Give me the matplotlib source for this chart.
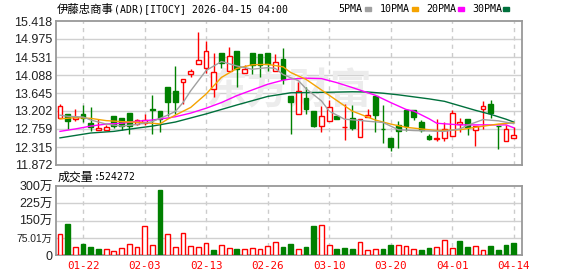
import numpy as np
import matplotlib
matplotlib.use('Agg')
import matplotlib.pyplot as plt
from matplotlib.patches import Rectangle

# OHLC, one entry per trading day (01-16 .. 04-14)
opens = [13.039, 13.120, 13.006, 13.137, 12.916, 12.729, 12.729, 13.071, 13.022, 13.153,
         12.892, 12.900, 13.251, 13.202, 13.790, 13.692, 13.928, 14.124, 14.369, 14.255,
         13.732, 14.622, 14.189, 14.687, 14.149, 14.638, 14.606, 14.638, 14.189, 14.475,
         13.561, 13.129, 13.512, 13.202, 12.827, 12.949, 13.071, 12.802, 13.022, 12.557,
         13.047, 13.569, 12.769, 12.541, 12.859, 13.235, 13.235, 12.925, 12.574, 12.508,
         12.533, 12.582, 12.884, 13.006, 12.737, 13.243, 13.365, 12.843, 12.459, 12.533]
highs = [13.373, 13.137, 13.251, 13.349, 13.308, 13.006, 12.859, 13.071, 13.022, 13.153,
         13.006, 13.129, 13.594, 13.202, 13.790, 14.312, 13.994, 14.230, 15.144, 14.916,
         14.638, 14.622, 14.785, 14.687, 14.346, 14.638, 14.606, 14.638, 14.606, 14.761,
         13.561, 13.904, 13.798, 13.202, 13.316, 13.471, 13.071, 13.382, 13.349, 12.998,
         13.251, 13.569, 13.349, 12.541, 12.965, 13.235, 13.235, 12.982, 12.639, 13.006,
         12.925, 13.235, 13.022, 13.006, 12.827, 13.455, 13.471, 12.843, 12.859, 12.818]
lows = [13.022, 12.761, 12.965, 12.925, 12.721, 12.729, 12.729, 12.778, 12.745, 12.631,
        12.859, 12.859, 12.631, 12.696, 13.088, 13.129, 13.373, 14.051, 14.369, 14.149,
        13.553, 14.271, 14.189, 13.798, 14.149, 14.108, 14.051, 14.189, 14.189, 13.871,
        12.631, 13.129, 13.129, 12.802, 12.680, 12.949, 13.006, 12.476, 12.745, 12.557,
        13.047, 12.680, 12.419, 12.215, 12.288, 12.721, 12.990, 12.696, 12.476, 12.451,
        12.451, 12.582, 12.696, 12.623, 12.329, 12.761, 13.022, 12.255, 12.459, 12.533]
closes = [13.316, 12.949, 13.063, 13.039, 12.818, 12.786, 12.810, 12.843, 12.843, 12.835,
          12.974, 12.974, 13.218, 13.006, 13.430, 13.430, 13.994, 14.181, 14.467, 14.687,
          14.173, 14.377, 14.565, 14.238, 14.247, 14.328, 14.328, 14.369, 14.418, 13.985,
          13.414, 13.683, 13.251, 12.843, 13.071, 13.292, 13.006, 12.810, 12.786, 12.998,
          13.096, 13.112, 12.753, 12.313, 12.721, 12.827, 13.055, 12.745, 12.500, 12.525,
          12.761, 13.145, 12.933, 12.802, 12.827, 13.316, 13.161, 12.827, 12.761, 12.606]

volumes = [912e3, 1368e3, 338e3, 485e3, 353e3, 265e3, 250e3, 162e3, 294e3, 471e3,
           353e3, 1265e3, 427e3, 2824e3, 912e3, 338e3, 956e3, 382e3, 353e3, 515e3,
           221e3, 427e3, 309e3, 265e3, 265e3, 294e3, 265e3, 382e3, 559e3, 353e3,
           485e3, 265e3, 353e3, 1280e3, 1309e3, 441e3, 265e3, 309e3, 265e3, 559e3,
           206e3, 265e3, 265e3, 441e3, 427e3, 397e3, 265e3, 221e3, 309e3, 353e3,
           647e3, 309e3, 618e3, 353e3, 382e3, 206e3, 397e3, 221e3, 441e3, 524272]
# r = up day, g = down day (volume bar colour)
vol_colors = 'rgrgggrrrrrrrgrrrrrrgrrgrrrrrggrggrrgggrrrggrrrggrrrggrrgggg'[:60]

# moving averages read at sample days
ma5_i = [0, 1, 3, 4, 6, 8, 10, 12, 14, 15, 16, 17, 19, 21, 23, 25, 27, 28, 29, 30,
         31, 32, 34, 35, 37, 39, 40, 42, 44, 46, 48, 50, 52, 53, 55, 57, 59]
ma5_v = [13.10, 13.07, 13.055, 12.98, 12.88, 12.83, 12.87, 12.94, 13.10, 13.19,
         13.41, 13.70, 14.20, 14.42, 14.31, 14.23, 14.27, 14.25, 14.10, 14.02,
         13.95, 13.75, 13.45, 13.20, 13.00, 12.97, 12.95, 12.92, 12.74, 12.72,
         12.71, 12.70, 12.76, 12.85, 12.99, 12.96, 12.89]
ma10_i = [0, 2, 4, 6, 8, 10, 12, 13, 14, 15, 17, 19, 21, 23, 25, 27, 29, 30, 32, 34,
          36, 38, 41, 43, 45, 47, 49, 52, 54, 57, 59]
ma10_v = [13.006, 13.04, 13.02, 12.965, 12.94, 12.925, 12.90, 12.884, 13.00, 13.10,
          13.29, 13.62, 14.03, 14.25, 14.34, 14.35, 14.29, 14.15, 13.98, 13.72,
          13.46, 13.20, 12.98, 12.88, 12.80, 12.76, 12.72, 12.74, 12.80, 12.88, 12.91]
ma20_i = [0, 2, 4, 6, 8, 10, 12, 14, 15, 17, 19, 21, 23, 25, 27, 29, 30, 32, 34, 36,
          38, 41, 43, 45, 46, 48, 49, 52, 55, 58, 59]
ma20_v = [12.70, 12.76, 12.83, 12.88, 12.90, 12.95, 12.98, 13.03, 13.06, 13.15,
          13.27, 13.41, 13.58, 13.72, 13.86, 13.96, 13.99, 14.01, 14.00, 13.90,
          13.78, 13.59, 13.41, 13.24, 13.20, 13.01, 12.90, 12.86, 12.86, 12.86, 12.79]
ma30_i = [0, 4, 7, 10, 12, 15, 19, 23, 27, 30, 34, 38, 40, 42, 44, 46, 48, 50, 52,
          54, 56, 58, 59]
ma30_v = [12.54, 12.66, 12.70, 12.78, 12.83, 12.93, 13.13, 13.35, 13.56, 13.65,
          13.66, 13.675, 13.67, 13.64, 13.60, 13.55, 13.50, 13.44, 13.33, 13.22,
          13.12, 13.00, 12.93]

date_pos = [3, 11, 19, 27, 35, 43, 51, 59]
date_labels = ['01-22', '02-03', '02-13', '02-26', '03-10', '03-20', '04-01', '04-14']
price_ticks = [11.872, 12.315, 12.759, 13.202, 13.645, 14.088, 14.531, 14.975, 15.418]
vol_ticks = [0, 750100, 1500200, 2250300, 3000400]
vol_labels = ['0', '75.01万', '150万', '225万', '300万']

RED = '#ff0000'
GREEN = '#008000'
W, H = 578, 276

fig = plt.figure(figsize=(W / 100, H / 100), dpi=100)
ax = fig.add_axes([56 / W, 1 - 165 / H, 466 / W, 144 / H])
axv = fig.add_axes([56 / W, 1 - 255 / H, 466 / W, 69 / H])

n = len(closes)
x = np.arange(n)

for a in (ax, axv):
    a.set_xlim(-0.52, 60.08)
    for s in a.spines.values():
        s.set_color('#999999')
        s.set_linewidth(1.3)
    a.tick_params(length=0)
    for p in date_pos:
        a.axvline(p, color='#cccccc', lw=1, ls=(0, (3, 3)), zorder=0)

# price panel
ax.set_ylim(price_ticks[0], price_ticks[-1])
for t in price_ticks[1:-1]:
    ax.axhline(t, color='#d0d0d0', lw=1, zorder=0)
ax.set_xticks([])
ax.set_yticks(price_ticks)
ax.set_yticklabels(['%.3f' % t for t in price_ticks], fontsize=9,
                   family='Liberation Sans', color='#222222')
ax.tick_params(axis='y', pad=2.5)

ax.text(0.5, 0.52, '东方财富', transform=ax.transAxes, ha='center', va='center',
        fontsize=30, color='#ececec', family='Noto Sans CJK SC', fontweight='bold',
        style='italic', zorder=0)

bw = 0.62
for i in range(n):
    o, h, l, c = opens[i], highs[i], lows[i], closes[i]
    up = c >= o
    col = RED if up else GREEN
    ax.vlines(i, l, h, color=col, lw=1, zorder=2)
    body = max(abs(c - o), 0.012)
    ax.bar(i, body, bottom=min(o, c), width=bw,
           facecolor='white' if up else GREEN, edgecolor=col, lw=1, zorder=3)

ax.plot(ma30_i, ma30_v, color='#00703c', lw=1, zorder=4)
ax.plot(ma20_i, ma20_v, color='#ff00ff', lw=1, zorder=4)
ax.plot(ma10_i, ma10_v, color='#f5a300', lw=1, zorder=4)
ax.plot(ma5_i, ma5_v, color='#a0a0a0', lw=1, zorder=4)

# volume panel
axv.set_ylim(0, vol_ticks[-1])
for t in vol_ticks[1:-1]:
    axv.axhline(t, color='#d0d0d0', lw=1, zorder=0)
for i in range(n):
    up = vol_colors[i] == 'r'
    axv.bar(i, volumes[i], width=bw, facecolor='white' if up else GREEN,
            edgecolor=RED if up else GREEN, lw=1, zorder=3)
axv.set_yticks(vol_ticks)
axv.set_yticklabels(vol_labels, fontsize=9, family=['Liberation Sans', 'Noto Sans CJK SC'],
                    color='#222222')
axv.get_yticklabels()[1].set_fontsize(7.4)
axv.tick_params(axis='y', pad=2.5)
axv.set_xticks(date_pos)
axv.set_xticklabels(date_labels, fontsize=7.8, family='DejaVu Sans Mono', color=RED)
axv.tick_params(axis='x', pad=4)

# header texts
def fx(px):
    return px / W

def fy(py):
    return 1 - py / H

fig.text(fx(57), fy(9), '伊藤忠商事', fontsize=8.2, family='Noto Sans CJK SC',
         va='center', ha='left')
fig.text(fx(114), fy(9), '(ADR)[ITOCY] 2026-04-15 04:00', fontsize=7.1,
         family='DejaVu Sans Mono', va='center', ha='left')

legend = [('5PMA', 338, 365, '#a0a0a0'), ('10PMA', 380, 412, '#f5a300'),
          ('20PMA', 426, 458, '#ff00ff'), ('30PMA', 472, 503, '#00703c')]
for name, tx, sx, col in legend:
    fig.text(fx(tx), fy(9), name, fontsize=7.2, family='DejaVu Sans Mono',
             va='center', ha='left')
    fig.add_artist(Rectangle((fx(sx), fy(11)), 6 / W, 4 / H, color=col,
                             transform=fig.transFigure))

fig.text(fx(58), fy(177), '成交量', fontsize=8.6, family='Noto Sans CJK SC',
         va='center', ha='left')
fig.text(fx(94), fy(177), ':524272', fontsize=7.1, family='DejaVu Sans Mono',
         va='center', ha='left')

fig.savefig('out.png', dpi=100)
